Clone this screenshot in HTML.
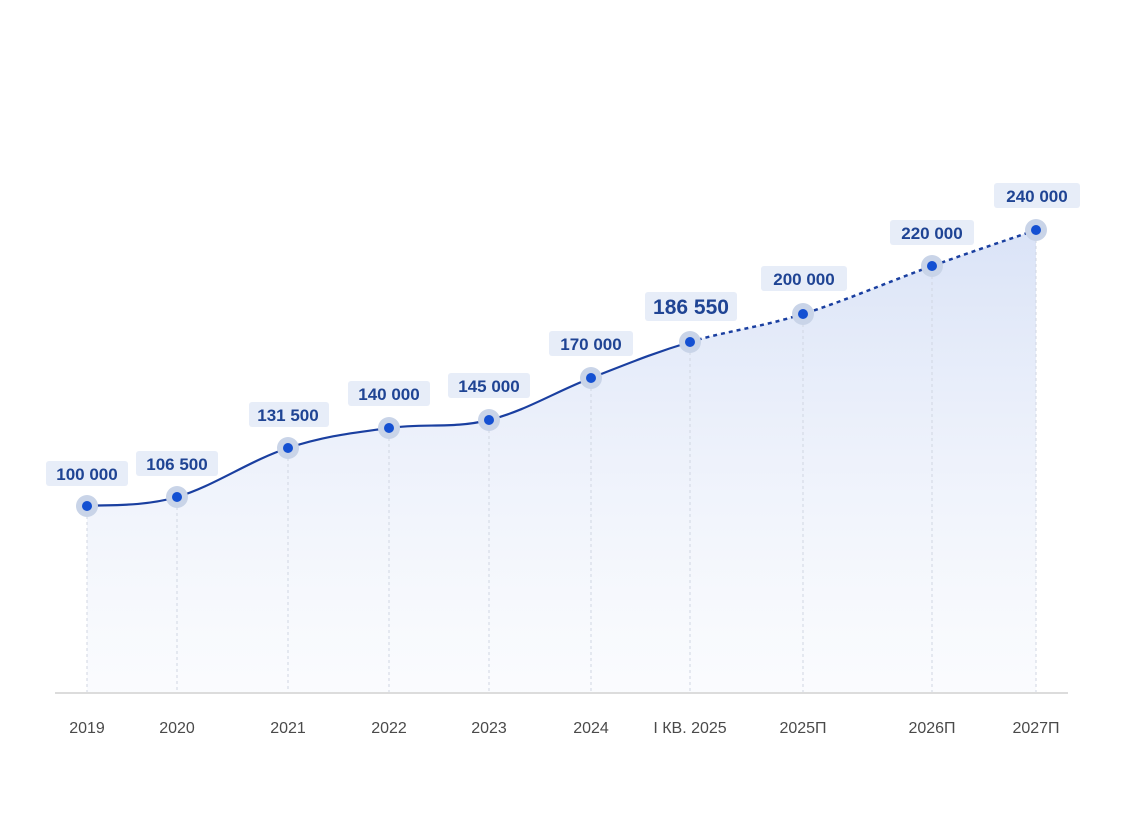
<!DOCTYPE html>
<html><head><meta charset="utf-8"><style>
html,body{margin:0;padding:0;background:#fff;}
svg{display:block;}
.v{font-family:"Liberation Sans",sans-serif;font-weight:bold;font-size:17px;fill:#1f4494;}
.x{font-family:"Liberation Sans",sans-serif;font-size:16px;fill:#4a4a4a;}
</style></head><body>
<svg id="s" width="1125" height="836" viewBox="0 0 1125 836" xmlns="http://www.w3.org/2000/svg">
<defs>
<linearGradient id="g" x1="0" y1="0" x2="0" y2="1">
<stop offset="0" stop-color="#d6e0f6" stop-opacity="0.9"/>
<stop offset="1" stop-color="#f3f6fc" stop-opacity="0.4"/>
</linearGradient>
</defs>
<path id="area" fill="url(#g)"/>
<g id="grid" stroke="#d0d6e2" stroke-width="1" stroke-dasharray="3,3"></g>
<line x1="55" y1="693" x2="1068" y2="693" stroke="#dcdcdc" stroke-width="2"/>
<path id="solid" fill="none" stroke="#1a3fa0" stroke-width="2.2"/>
<path id="dash" fill="none" stroke="#1a3fa0" stroke-width="2.5" stroke-dasharray="4,4"/>
<g id="pts"></g>
<g id="labels"></g>
<g class="x" text-anchor="middle">
<text x="87" y="733">2019</text>
<text x="177" y="733">2020</text>
<text x="288" y="733">2021</text>
<text x="389" y="733">2022</text>
<text x="489" y="733">2023</text>
<text x="591" y="733">2024</text>
<text x="690" y="733">I КВ. 2025</text>
<text x="803" y="733">2025П</text>
<text x="932" y="733">2026П</text>
<text x="1036" y="733">2027П</text>
</g>
<g text-anchor="middle">
<rect x="46" y="461" width="82" height="25" rx="3" fill="#e7edf8"/><text class="v" x="87" y="480">100 000</text>
<rect x="136" y="451" width="82" height="25" rx="3" fill="#e7edf8"/><text class="v" x="177" y="470">106 500</text>
<rect x="249" y="402" width="80" height="25" rx="3" fill="#e7edf8"/><text class="v" x="288" y="421">131 500</text>
<rect x="348" y="381" width="82" height="25" rx="3" fill="#e7edf8"/><text class="v" x="389" y="400">140 000</text>
<rect x="448" y="373" width="82" height="25" rx="3" fill="#e7edf8"/><text class="v" x="489" y="392">145 000</text>
<rect x="549" y="331" width="84" height="25" rx="3" fill="#e7edf8"/><text class="v" x="591" y="350">170 000</text>
<rect x="645" y="292" width="92" height="29" rx="3" fill="#e7edf8"/><text class="v" x="691" y="314" style="font-size:21px">186 550</text>
<rect x="761" y="266" width="86" height="25" rx="3" fill="#e7edf8"/><text class="v" x="804" y="285">200 000</text>
<rect x="890" y="220" width="84" height="25" rx="3" fill="#e7edf8"/><text class="v" x="932" y="239">220 000</text>
<rect x="994" y="183" width="86" height="25" rx="3" fill="#e7edf8"/><text class="v" x="1037" y="202">240 000</text>
</g>
</svg>
<script>
var P=[[87,506],[177,497],[288,448],[389,428],[489,420],[591,378],[690,342],[803,314],[932,266],[1036,230]];
function seg(i){var p0=P[Math.max(i-1,0)],p1=P[i],p2=P[i+1],p3=P[Math.min(i+2,P.length-1)];
var t=0.18;var c1=[p1[0]+(p2[0]-p0[0])*t,p1[1]+(p2[1]-p0[1])*t],c2=[p2[0]-(p3[0]-p1[0])*t,p2[1]-(p3[1]-p1[1])*t];
return " C"+c1+" "+c2+" "+p2;}
var s="M"+P[0],d="M"+P[6],all="M"+P[0];
for(var i=0;i<P.length-1;i++){var k=seg(i);all+=k;if(i<6)s+=k;else d+=k;}
document.getElementById('solid').setAttribute('d',s);
document.getElementById('dash').setAttribute('d',d);
document.getElementById('area').setAttribute('d',all+" L1036,693 L87,693 Z");
var ns="http://www.w3.org/2000/svg",g=document.getElementById('grid'),pt=document.getElementById('pts');
P.forEach(function(p){var l=document.createElementNS(ns,'line');l.setAttribute('x1',p[0]);l.setAttribute('x2',p[0]);l.setAttribute('y1',p[1]+10);l.setAttribute('y2',693);g.appendChild(l);
var c=document.createElementNS(ns,'circle');c.setAttribute('cx',p[0]);c.setAttribute('cy',p[1]);c.setAttribute('r',11);c.setAttribute('fill','#c9d4e8');pt.appendChild(c);
c=document.createElementNS(ns,'circle');c.setAttribute('cx',p[0]);c.setAttribute('cy',p[1]);c.setAttribute('r',5);c.setAttribute('fill','#1450d2');pt.appendChild(c);});
</script>
</body></html>
